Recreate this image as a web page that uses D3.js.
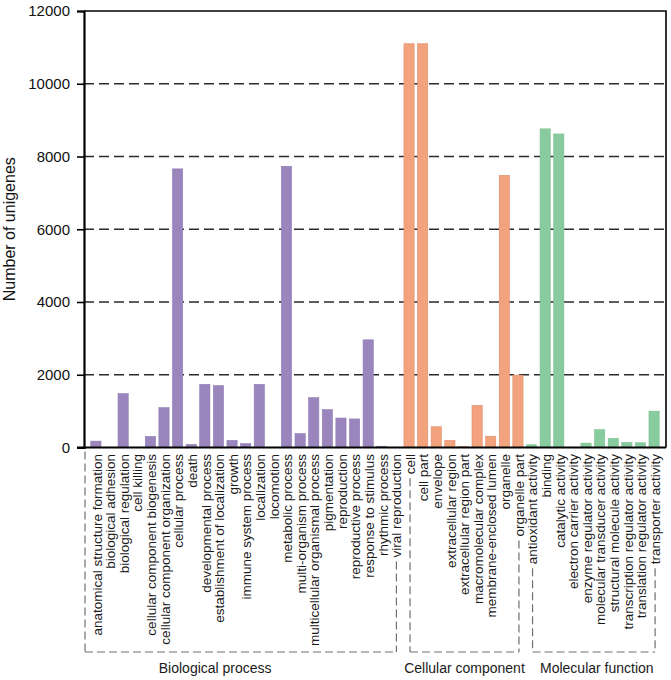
<!DOCTYPE html>
<html>
<head>
<meta charset="utf-8">
<script src="https://cdn.jsdelivr.net/npm/d3@7/dist/d3.min.js"></script>
<style>
  html, body { margin: 0; padding: 0; background: #fff; }
  svg { display: block; font-family: "Liberation Sans", Arial, sans-serif; }
</style>
</head>
<body>
<svg id="chart" width="671" height="680"></svg>
<script>
// ---- data ----
const bpCategories = [
  "anatomical structure formation", "biological adhesion", "biological regulation", "cell killing",
  "cellular component biogenesis", "cellular component organization", "cellular process", "death",
  "developmental process", "establishment of localization", "growth", "immune system process",
  "localization", "locomotion", "metabolic process", "multi-organism process",
  "multicellular organismal process", "pigmentation", "reproduction", "reproductive process",
  "response to stimulus", "rhythmic process", "viral reproduction"
];
const bpValues = [175, 5, 1480, 5, 305, 1095, 7660, 85, 1735, 1700, 195, 105, 1735, 5, 7730, 380, 1370, 1040, 810, 785, 2960, 35, 5];

const ccCategories = [
  "cell", "cell part", "envelope", "extracellular region", "extracellular region part",
  "macromolecular complex", "membrane-enclosed lumen", "organelle", "organelle part"
];
const ccValues = [11100, 11100, 570, 195, 25, 1155, 310, 7480, 1990];

const mfCategories = [
  "antioxidant activity", "binding", "catalytic activity", "electron carrier activity",
  "enzyme regulator activity", "molecular transducer activity", "structural molecule activity",
  "transcription regulator activity", "translation regulator activity", "transporter activity"
];
const mfValues = [75, 8760, 8620, 5, 120, 490, 250, 140, 130, 1000];

const groupNames = ["Biological process", "Cellular component", "Molecular function"];
const groupColors = ["#9a86bd", "#f2a27c", "#88cb9e"];
const groupStrokes = ["#8f7bb3", "#dc8c6b", "#7fbf93"];
const yTicks = [0, 2000, 4000, 6000, 8000, 10000, 12000];
const yTitle = "Number of unigenes";

// ---- build rows ----
const groups = [
  { name: groupNames[0], cats: bpCategories, vals: bpValues },
  { name: groupNames[1], cats: ccCategories, vals: ccValues },
  { name: groupNames[2], cats: mfCategories, vals: mfValues }
];
const rows = [];
groups.forEach((g, gi) => g.cats.forEach((c, i) => rows.push({ cat: c, val: g.vals[i], g: gi })));

// ---- layout ----
const mLeft = 84, mRight = 666, mTop = 11, mBottom = 447.5;
const svg = d3.select("#chart");

const x = d3.scaleBand().domain(rows.map(d => d.cat)).range([mLeft, mRight])
  .paddingInner(0.25).paddingOuter(0.5);
const y = d3.scaleLinear().domain([0, 12000]).range([mBottom, mTop]);

// grid lines
svg.append("g").selectAll("line").data(yTicks.filter(t => t > 0 && t < 12000)).join("line")
  .attr("x1", mLeft).attr("x2", mRight)
  .attr("y1", d => y(d)).attr("y2", d => y(d))
  .attr("stroke", "#2a2a2a").attr("stroke-width", 1.7).attr("stroke-dasharray", "10,5");

// bars
svg.append("g").selectAll("rect").data(rows).join("rect")
  .attr("x", d => x(d.cat)).attr("width", x.bandwidth())
  .attr("y", d => y(d.val)).attr("height", d => mBottom - y(d.val))
  .attr("fill", d => groupColors[d.g])
  .attr("stroke", d => d.val > 20 ? groupStrokes[d.g] : "none").attr("stroke-width", 0.6);

// frame (top & right)
svg.append("path")
  .attr("d", `M${mLeft},${mTop}H${mRight}V${mBottom}`)
  .attr("fill", "none").attr("stroke", "#000").attr("stroke-width", 1.6);

// y axis
const yAxis = d3.axisLeft(y).tickValues(yTicks).tickSize(7).tickPadding(7).tickFormat(d3.format("d"));
const ya = svg.append("g").attr("transform", `translate(${mLeft},0)`).call(yAxis);
ya.select(".domain").attr("stroke", "#000").attr("stroke-width", 2.2);
ya.selectAll(".tick line").attr("stroke", "#000").attr("stroke-width", 1.6);
ya.selectAll(".tick text").attr("font-size", 15).attr("fill", "#111")
  .attr("font-family", "'Liberation Sans', Arial, sans-serif");

// x axis baseline
svg.append("line").attr("x1", mLeft - 7).attr("x2", mRight)
  .attr("y1", mBottom).attr("y2", mBottom).attr("stroke", "#000").attr("stroke-width", 2.2);

// y title
svg.append("text")
  .attr("transform", `translate(15,${(mTop + mBottom) / 2}) rotate(-90)`)
  .attr("text-anchor", "middle").attr("font-size", 16).attr("fill", "#111")
  .text(yTitle);

// category labels
const labelTop = 454;
const labels = svg.append("g").selectAll("text").data(rows).join("text")
  .attr("transform", d => `translate(${x(d.cat) + x.bandwidth() / 2 + 1},${labelTop}) rotate(-90)`)
  .attr("dy", "0.35em").attr("text-anchor", "end")
  .attr("font-size", 13.5).attr("fill", "#1a1a1a")
  .text(d => d.cat);

const labelLen = {};
labels.each(function (d) { labelLen[d.cat] = this.getComputedTextLength(); });

// brackets
const bracketY = 652;
const dash = { stroke: "#707070", width: 1.2, arr: "8,4" };
function dline(x1, y1, x2, y2) {
  svg.append("line").attr("x1", x1).attr("y1", y1).attr("x2", x2).attr("y2", y2)
    .attr("stroke", dash.stroke).attr("stroke-width", dash.width).attr("stroke-dasharray", dash.arr);
}
function cx(cat) { return x(cat) + x.bandwidth() / 2 + 1; }
function below(cat) { return labelTop + labelLen[cat] + 4; }

// Biological process
const bpLast = bpCategories[bpCategories.length - 1];
dline(mLeft + 1, mBottom + 4, mLeft + 1, bracketY);
dline(mLeft + 1, bracketY, cx(bpLast), bracketY);
dline(cx(bpLast), below(bpLast), cx(bpLast), bracketY);
// Cellular component
const ccFirst = ccCategories[0], ccLast = ccCategories[ccCategories.length - 1];
dline(cx(ccFirst), below(ccFirst), cx(ccFirst), bracketY);
dline(cx(ccFirst), bracketY, cx(ccLast), bracketY);
dline(cx(ccLast), below(ccLast), cx(ccLast), bracketY);
// Molecular function
const mfFirst = mfCategories[0], mfLast = mfCategories[mfCategories.length - 1];
dline(cx(mfFirst), below(mfFirst), cx(mfFirst), bracketY);
dline(cx(mfFirst), bracketY, cx(mfLast), bracketY);
dline(cx(mfLast), below(mfLast), cx(mfLast), bracketY);

// group labels
const groupLabelX = [
  (mLeft + cx(bpCategories[17])) / 2 + 9,
  (cx(ccFirst) + cx(ccLast)) / 2,
  (cx(mfFirst) + cx(mfLast)) / 2 + 3
];
svg.append("g").selectAll("text").data(groupNames).join("text")
  .attr("x", (d, i) => groupLabelX[i]).attr("y", 673)
  .attr("text-anchor", "middle").attr("font-size", 14).attr("fill", "#1a1a1a")
  .text(d => d);
</script>
</body>
</html>
